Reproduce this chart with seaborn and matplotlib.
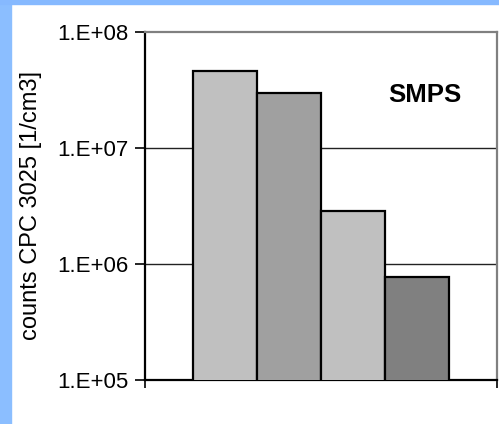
import numpy as np
import matplotlib
matplotlib.use("Agg")
import matplotlib.pyplot as plt
import seaborn as sns
from matplotlib.patches import Rectangle

# values
categories = ["a", "b", "c", "d"]
counts = [4.6e7, 3.0e7, 2.86e6, 7.7e5]
bar_colors = ["#C0C0C0", "#A0A0A0", "#C0C0C0", "#808080"]
ytick_vals = [1e5, 1e6, 1e7, 1e8]
ytick_labels = ["1.E+05", "1.E+06", "1.E+07", "1.E+08"]

sns.set_style("white")
plt.rcParams["font.family"] = ["Liberation Sans", "DejaVu Sans"]
plt.rcParams["text.color"] = "black"
plt.rcParams["axes.labelcolor"] = "black"
plt.rcParams["ytick.color"] = "black"
plt.rcParams["xtick.color"] = "black"

fig = plt.figure(figsize=(4.99, 4.24), dpi=100)

# blue frame strips on the left and top
fig.patches.append(Rectangle((0, 0), 11 / 499, 1, transform=fig.transFigure,
                             color="#8BBEFF", zorder=0))
fig.patches.append(Rectangle((0, 1 - 4 / 424), 1, 4 / 424, transform=fig.transFigure,
                             color="#86B9FF", zorder=0))

ax = fig.add_axes([145 / 499, 44 / 424, 352 / 499, 348 / 424])

sns.barplot(x=categories, y=counts, hue=categories, palette=bar_colors,
            width=1.0, edgecolor="black", linewidth=1.6, legend=False,
            ax=ax, zorder=3)

ax.set_yscale("log")
ax.set_ylim(1e5, 1e8)
ax.set_xlim(-1.25, 4.25)
ax.set_yticks(ytick_vals, labels=ytick_labels)
ax.minorticks_off()
ax.set_xticks([-1.25, 4.25], labels=["", ""])

for y in [1e6, 1e7]:
    ax.axhline(y, color="#222222", lw=1.0, zorder=1)

ax.tick_params(axis="y", direction="out", length=7, width=1.2, pad=5,
               labelsize=16, left=True, color="black", labelcolor="black")
ax.tick_params(axis="x", direction="out", length=6, width=1.2, bottom=True,
               color="black")

for side in ["top", "right"]:
    ax.spines[side].set_color("#808080")
    ax.spines[side].set_linewidth(1.6)
for side in ["left", "bottom"]:
    ax.spines[side].set_color("black")
    ax.spines[side].set_linewidth(1.6)

ax.set_xlabel("")
ax.set_ylabel("counts CPC 3025 [1/cm3]", fontsize=17, color="black")
ax.yaxis.set_label_coords(-103 / 352, 0.5)

ax.text(0.795, 0.82, "SMPS", transform=ax.transAxes, ha="center", va="center",
        fontsize=18.5, fontweight="bold", color="black")

fig.savefig("out.png", dpi=100)
